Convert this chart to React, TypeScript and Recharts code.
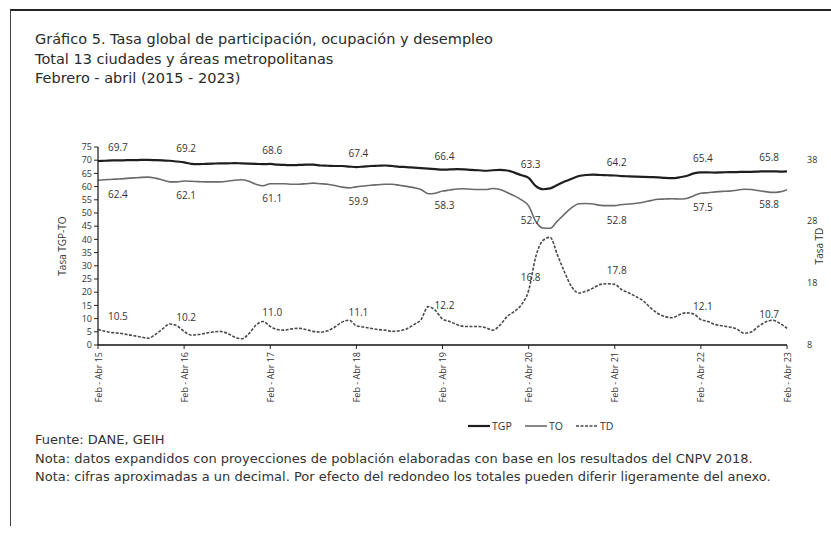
import React from 'react';
import { LineChart, Line, XAxis, YAxis } from 'recharts';

const periods = ['Feb - Abr', 'Mar - May', 'Abr - Jun', 'May - Jul', 'Jun - Ago', 'Jul - Sep', 'Ago - Oct', 'Sep - Nov', 'Oct - Dic', 'Nov - Ene', 'Dic - Feb', 'Ene - Mar'];

const tgp = [
  69.7, 69.8, 69.9, 69.9, 70.0, 70.0, 70.1, 70.1, 70.0, 69.9, 69.8, 69.5,
  69.2, 68.6, 68.5, 68.6, 68.7, 68.8, 68.8, 68.9, 68.8, 68.7, 68.6, 68.5,
  68.6, 68.3, 68.2, 68.1, 68.2, 68.3, 68.3, 68.0, 67.9, 67.8, 67.8, 67.6,
  67.4, 67.6, 67.8, 67.9, 68.0, 67.8, 67.5, 67.4, 67.2, 67.0, 66.8, 66.6,
  66.4, 66.5, 66.6, 66.5, 66.3, 66.2, 66.0, 66.2, 66.3, 66.1, 65.3, 64.3,
  63.3, 60.2, 59.0, 59.3, 60.6, 61.9, 63.0, 64.0, 64.4, 64.5, 64.4, 64.3,
  64.2, 64.0, 63.9, 63.8, 63.7, 63.6, 63.5, 63.3, 63.2, 63.5, 64.0, 65.0,
  65.4, 65.4, 65.3, 65.4, 65.5, 65.5, 65.6, 65.6, 65.7, 65.8, 65.8, 65.7,
  65.8,
];

const to = [
  62.4, 62.6, 62.8, 62.9, 63.1, 63.3, 63.5, 63.6, 63.2, 62.5, 61.8, 61.8,
  62.1, 62.0, 61.9, 61.8, 61.8, 61.8, 62.0, 62.4, 62.6, 62.0, 60.9, 60.3,
  61.1, 61.1, 61.1, 60.9, 60.9, 61.1, 61.3, 61.1, 60.9, 60.4, 59.8, 59.5,
  59.9, 60.2, 60.5, 60.7, 60.9, 60.9, 60.5, 60.1, 59.6, 58.9, 57.3, 57.5,
  58.3, 58.7, 59.1, 59.2, 59.0, 58.9, 58.9, 59.3, 58.9, 57.8, 56.5, 55.0,
  52.7, 46.8, 44.3, 44.2, 46.9, 49.6, 52.0, 53.5, 53.6, 53.4, 52.9, 52.8,
  52.8, 53.2, 53.4, 53.7, 54.1, 54.7, 55.2, 55.3, 55.4, 55.3, 55.5, 56.5,
  57.5, 57.7, 58.0, 58.2, 58.3, 58.6, 59.0, 58.9, 58.5, 58.1, 57.8, 58.0,
  58.8,
];

const td = [
  10.5, 10.2, 10.0, 9.9, 9.7, 9.5, 9.3, 9.1, 9.7, 10.6, 11.4, 11.1,
  10.2, 9.6, 9.7, 9.9, 10.1, 10.2, 9.9, 9.3, 9.0, 9.8, 11.2, 11.8,
  11.0, 10.5, 10.4, 10.6, 10.7, 10.5, 10.2, 10.1, 10.3, 10.9, 11.7, 12.0,
  11.1, 10.9, 10.7, 10.5, 10.4, 10.2, 10.3, 10.6, 11.3, 12.1, 14.2, 13.6,
  12.2, 11.8, 11.3, 11.0, 11.0, 11.0, 10.8, 10.4, 11.2, 12.6, 13.4, 14.5,
  16.8, 22.3, 24.9, 25.4, 22.6, 19.8, 17.4, 16.4, 16.7, 17.2, 17.8, 17.9,
  17.8, 16.9, 16.4, 15.8, 15.1, 14.0, 13.1, 12.6, 12.4, 12.9, 13.2, 13.0,
  12.1, 11.8, 11.3, 11.1, 10.9, 10.6, 9.9, 10.1, 11.0, 11.7, 12.0, 11.5,
  10.7,
];

const leftTicks = [0, 5, 10, 15, 20, 25, 30, 35, 40, 45, 50, 55, 60, 65, 70, 75];
const rightTicks = [8, 18, 28, 38];

const titleLines = [
  'Gráfico 5. Tasa global de participación, ocupación y desempleo',
  'Total 13 ciudades y áreas metropolitanas',
  'Febrero - abril (2015 - 2023)',
];
const notes = [
  'Fuente: DANE, GEIH',
  'Nota: datos expandidos con proyecciones de población elaboradas con base en los resultados del CNPV 2018.',
  'Nota: cifras aproximadas a un decimal. Por efecto del redondeo los totales pueden diferir ligeramente del anexo.',
];

const categories = tgp.map((_, i) => {
  const m = i % 12;
  const yr = 15 + Math.floor(i / 12) + (m >= 9 ? 1 : 0);
  return `${periods[m]} ${yr}`;
});

const data = categories.map((c, i) => ({ cat: c, tgp: tgp[i], to: to[i], td: td[i] }));

const FONT = '"Open Sans", "DejaVu Sans", sans-serif';
const TFONT = '"DejaVu Sans", "Open Sans", sans-serif';
const LAST = tgp.length - 1;

const XTick = (props: any) => {
  const { x, y, payload } = props;
  return (
    <text x={x} y={y} transform={`rotate(-90 ${x} ${y})`} textAnchor="end" dominantBaseline="central" fontSize={9} fill="#333" fontFamily={FONT}>
      {payload.value}
    </text>
  );
};

const makeLabel = (dy: number) => (props: any) => {
  const { x, y, value, index } = props;
  if (index % 12 !== 0) return null;
  let anchor: any = 'middle';
  let dx = 2;
  if (index === 0) { anchor = 'start'; dx = 10; }
  if (index === LAST) { anchor = 'end'; dx = -8; }
  return (
    <text key={`l${index}`} x={x + dx} y={y + dy} textAnchor={anchor} dominantBaseline="central" fontSize={10} fill="#333" fontFamily={FONT}>
      {Number(value).toFixed(1)}
    </text>
  );
};

const LegendItem = ({ color, width, dash, text, left }: any) => (
  <div style={{ position: 'absolute', left, top: 0, display: 'flex', alignItems: 'center' }}>
    <svg width={22} height={8}>
      <line x1={0} y1={4} x2={22} y2={4} stroke={color} strokeWidth={width} strokeDasharray={dash} />
    </svg>
    <span style={{ marginLeft: 2 }}>{text}</span>
  </div>
);

export default function App() {
  return (
    <div style={{ position: 'absolute', left: 0, top: 0, width: 831, height: 533, background: '#fff', overflow: 'hidden', fontFamily: FONT, color: '#333' }}>
      <div style={{ position: 'absolute', left: 10, top: 9, width: 821, height: 515, borderTop: '2px solid #222', borderLeft: '1.5px solid #444' }} />
      <div style={{ position: 'absolute', left: 35, top: 30, fontSize: 14.5, lineHeight: '19.5px', color: '#2a2a2a', fontFamily: TFONT, whiteSpace: 'nowrap' }}>
        {titleLines.map((t) => <div key={t}>{t}</div>)}
      </div>
      <div style={{ position: 'absolute', left: 0, top: 0 }}>
        <LineChart width={831} height={533} data={data} margin={{ top: 147, right: 4, bottom: 0, left: 38 }}>
          <XAxis
            dataKey="cat"
            interval={11}
            height={188}
            tick={<XTick />}
            tickSize={4}
            tickMargin={3}
            tickLine={{ stroke: '#222' }}
            axisLine={{ stroke: '#111', strokeWidth: 1.5 }}
          />
          <YAxis
            yAxisId="l"
            domain={[0, 75]}
            ticks={leftTicks}
            interval={0}
            width={60}
            tickSize={4}
            tick={{ fontSize: 9, fill: '#333', fontFamily: FONT }}
            tickLine={{ stroke: '#222' }}
            axisLine={{ stroke: '#111', strokeWidth: 1.2 }}
            label={{ value: 'Tasa TGP-TO', angle: -90, position: 'insideLeft', offset: 24, style: { fontSize: 10, fill: '#333', fontFamily: FONT, textAnchor: 'middle' } }}
          />
          <YAxis
            yAxisId="r"
            orientation="right"
            domain={[8, 40]}
            ticks={rightTicks}
            interval={0}
            width={40}
            axisLine={false}
            tickLine={false}
            tickMargin={14}
            tick={{ fontSize: 9, fill: '#333', fontFamily: FONT }}
            label={{ value: 'Tasa TD', angle: -90, position: 'insideRight', offset: 8, style: { fontSize: 10, fill: '#333', fontFamily: FONT, textAnchor: 'middle' } }}
          />
          <Line yAxisId="l" type="monotone" dataKey="tgp" stroke="#1e1e1e" strokeWidth={2.2} dot={false} isAnimationActive={false} label={makeLabel(-14)} />
          <Line yAxisId="l" type="monotone" dataKey="to" stroke="#6a6a6a" strokeWidth={1.6} dot={false} isAnimationActive={false} label={makeLabel(14)} />
          <Line yAxisId="r" type="monotone" dataKey="td" stroke="#4a4a4a" strokeWidth={1.6} strokeDasharray="3 1.5" dot={false} isAnimationActive={false} label={makeLabel(-14)} />
        </LineChart>
      </div>
      <div style={{ position: 'absolute', left: 0, width: 831, top: 419, height: 14, fontSize: 10.5 }}>
        <LegendItem color="#1e1e1e" width={2.2} text="TGP" left={468} />
        <LegendItem color="#6a6a6a" width={1.6} text="TO" left={525} />
        <LegendItem color="#4a4a4a" width={1.6} dash="3 1.5" text="TD" left={576} />
      </div>
      <div style={{ position: 'absolute', left: 35, top: 431, fontSize: 13, lineHeight: '18.5px', color: '#333', fontFamily: TFONT }}>
        {notes.map((t) => <div key={t} style={{ whiteSpace: 'nowrap' }}>{t}</div>)}
      </div>
    </div>
  );
}
